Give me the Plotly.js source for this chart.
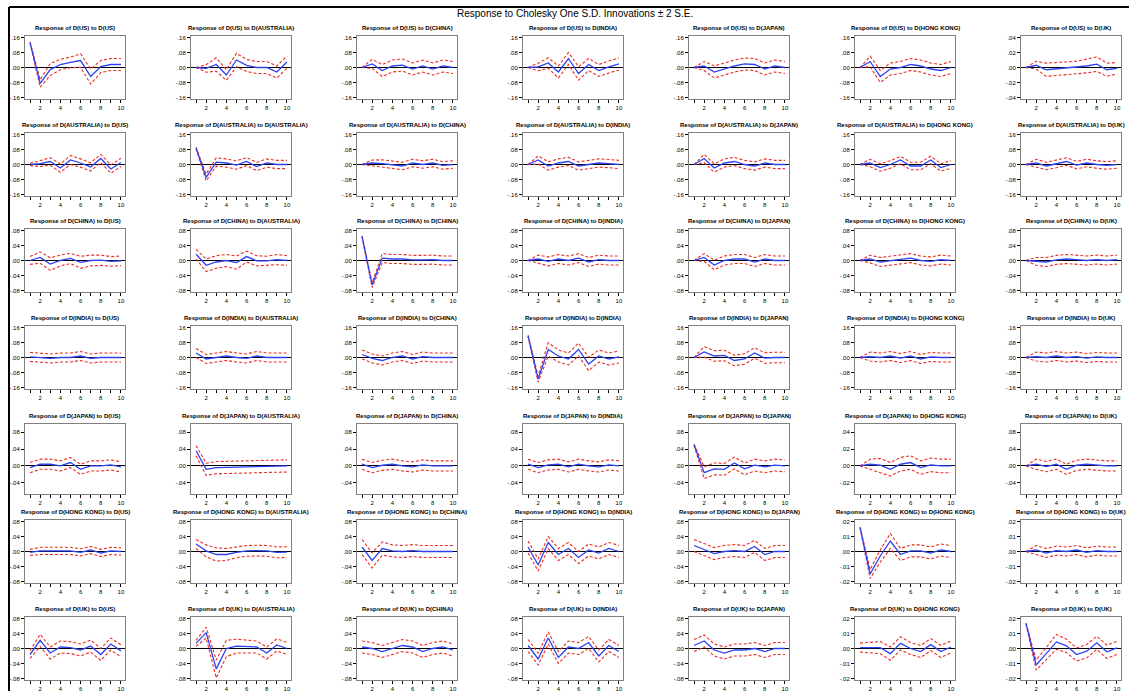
<!DOCTYPE html>
<html>
<head>
<meta charset="utf-8">
<script src="https://cdn.plot.ly/plotly-3.0.1.min.js"></script>
<style>html,body{margin:0;padding:0;background:#fff;}#chart{width:1129px;height:691px;}</style>
</head>
<body>
<div id="chart"></div>
<script>
const countries = ['US','AUSTRALIA','CHINA','INDIA','JAPAN','HONG KONG','UK'];
const periods = [1,2,3,4,5,6,7,8,9,10];
const xTickText = ['', '2', '', '4', '', '6', '', '8', '', '10'];
const mainTitle = 'Response to Cholesky One S.D. Innovations \u00b1 2 S.E.';

// top tick value of each panel's y axis (row = responding variable, col = shock)
const yTopTick = [
  [.16,.16,.16,.16,.16,.16,.04],
  [.16,.16,.16,.16,.16,.16,.16],
  [.08,.08,.08,.08,.08,.08,.08],
  [.16,.16,.16,.16,.16,.16,.16],
  [.08,.08,.08,.08,.08,.04,.08],
  [.08,.08,.08,.08,.08,.02,.02],
  [.08,.08,.08,.08,.08,.02,.02]
];

// Response of D(US) to each shock
const irfUS = [
  [.133,-.085,-.011,.016,.027,.037,-.048,.005,.016,.016],
  [0,-.005,.016,-.040,.040,.011,0,0,-.024,.029],
  [0,.019,-.016,.008,.013,-.008,.008,-.008,.008,0],
  [0,.003,.024,-.024,.048,-.032,.016,-.016,.003,.019],
  [0,.008,-.024,-.008,.008,.019,.016,-.008,.008,0],
  [0,.032,-.048,-.008,0,.016,.008,-.008,-.016,0],
  [0,.003,-.003,-.002,-.001,0,.002,.0044,-.003,-.001]
];
const seUS = [
  [.002,.010,.016,.014,.014,.018,.020,.016,.016,.016],
  [0,.010,.018,.014,.018,.016,.016,.016,.016,.016],
  [0,.012,.016,.016,.016,.016,.016,.016,.016,.016],
  [0,.010,.014,.016,.016,.018,.016,.016,.016,.016],
  [0,.012,.016,.016,.016,.016,.016,.016,.016,.016],
  [0,.014,.016,.016,.016,.016,.016,.016,.016,.016],
  [0,.0026,.0044,.0044,.004,.0042,.0046,.0048,.0044,.0038]
];

// Response of D(AUSTRALIA)
const irfAUSTRALIA = [
  [0,.005,.016,-.019,.024,.008,-.013,.032,-.024,.011],
  [.088,-.069,.013,.008,-.003,.016,-.011,.008,0,0],
  [0,.008,.005,0,-.008,.008,0,.008,-.005,0],
  [0,.024,-.008,.008,.016,-.008,0,.008,.005,0],
  [0,.032,-.019,.008,.016,0,-.008,.008,0,0],
  [0,.008,-.016,0,.024,-.008,-.008,.024,-.016,0],
  [0,.008,-.008,.003,.016,-.003,.008,0,-.005,0]
];
const seAUSTRALIA = [
  [.003,.008,.010,.011,.012,.011,.011,.011,.011,.011],
  [.002,.009,.011,.011,.011,.011,.011,.011,.011,.011],
  [0,.008,.010,.010,.010,.010,.010,.010,.010,.010],
  [0,.011,.011,.011,.011,.011,.011,.011,.011,.011],
  [0,.011,.011,.011,.011,.011,.011,.011,.011,.011],
  [0,.010,.010,.010,.010,.010,.010,.010,.010,.010],
  [0,.010,.010,.010,.010,.010,.010,.010,.010,.010]
];

// Response of D(CHINA)
const irfCHINA = [
  [0,.008,-.0096,0,.0056,-.0048,0,.0008,-.0024,-.0008],
  [.0168,-.0128,-.004,0,-.0056,.0104,-.0008,-.0008,.0024,0],
  [.064,-.0656,.0064,.004,.004,.0016,.0016,.0024,0,0],
  [0,.004,-.0024,.004,0,.0064,-.004,.0024,0,0],
  [0,.008,-.012,0,.004,.004,-.004,.004,0,0],
  [0,.004,-.004,0,.004,.0064,0,-.0024,.0024,0],
  [0,-.0024,-.004,.0016,.004,.0024,0,.0024,0,.0024]
];
const seCHINA = [
  [.0052,.0076,.0084,.0072,.0068,.008,.0072,.0068,.0064,.0064],
  [.0064,.0084,.0084,.008,.0088,.0072,.0068,.006,.0068,.0064],
  [.0008,.0032,.006,.006,.006,.006,.006,.006,.006,.006],
  [0,.0052,.006,.006,.006,.006,.006,.006,.006,.006],
  [0,.0052,.0064,.006,.006,.006,.006,.006,.006,.006],
  [0,.0052,.006,.006,.006,.006,.006,.006,.006,.006],
  [0,.0052,.006,.006,.006,.006,.006,.006,.006,.006]
];

// Response of D(INDIA)
const irfINDIA = [
  [.003,0,-.005,0,0,.008,-.005,0,0,0],
  [.024,-.008,0,.008,0,-.005,.008,0,0,0],
  [.016,-.005,-.016,0,.008,-.008,.005,0,0,0],
  [.115,-.115,.043,.008,-.008,.043,-.035,.008,-.008,.003],
  [0,.030,.008,.011,-.016,-.008,.024,-.003,0,0],
  [0,.005,0,.008,-.003,.008,-.008,.003,0,0],
  [0,.005,0,.008,0,.005,-.003,.003,0,0]
];
const seINDIA = [
  [.012,.012,.012,.012,.012,.012,.012,.012,.012,.012],
  [.012,.012,.012,.012,.012,.012,.012,.012,.012,.012],
  [.012,.012,.012,.012,.012,.012,.012,.012,.012,.012],
  [.002,.008,.018,.016,.016,.017,.018,.016,.016,.016],
  [0,.014,.014,.014,.014,.014,.014,.014,.014,.014],
  [0,.012,.012,.012,.012,.012,.012,.012,.012,.012],
  [0,.012,.012,.012,.012,.012,.012,.012,.012,.012]
];

// Response of D(JAPAN)
const irfJAPAN = [
  [-.004,.004,.004,0,.008,-.008,0,0,.0024,-.0024],
  [.036,-.008,-.004,-.004,-.0024,-.0024,-.0016,-.0016,0,0],
  [.004,-.004,.0016,.004,0,-.0024,.0024,0,0,0],
  [.004,-.004,.0024,.004,-.0024,.004,0,-.0024,.0024,0],
  [.05,-.016,-.007,-.008,.007,-.007,.002,-.002,.002,0],
  [0,.002,.0008,-.004,.002,.004,-.002,.0012,0,0],
  [0,.004,-.0016,.004,-.008,.0016,.004,.0016,0,0]
];
const seJAPAN = [
  [.006,.006,.006,.006,.006,.006,.006,.006,.006,.006],
  [.006,.0072,.0072,.0072,.0072,.0072,.0072,.0072,.0072,.0072],
  [.006,.006,.006,.006,.006,.006,.006,.006,.006,.006],
  [.006,.006,.006,.006,.006,.006,.006,.006,.006,.006],
  [.0008,.007,.007,.007,.007,.007,.007,.007,.007,.007],
  [0,.003,.004,.004,.004,.004,.004,.004,.004,.004],
  [0,.006,.006,.006,.006,.006,.006,.006,.006,.006]
];

// Response of D(HONG KONG)
const irfHONGKONG = [
  [-.0024,.0016,.0016,.0024,.0016,-.0024,.004,-.004,.0016,0],
  [.02,.0016,-.008,-.008,-.0024,.0016,.0024,.0016,-.0024,-.0016],
  [.012,-.024,.008,.0016,0,.0024,0,0,0,0],
  [.012,-.036,.024,-.008,.008,-.016,.004,-.004,.008,0],
  [.016,.0056,-.0056,0,.0024,0,.0136,-.008,0,0],
  [.016,-.015,-.003,.007,-.002,.0004,.0004,-.001,.001,0],
  [0,.001,-.001,.0006,0,.001,-.0006,.0006,0,0]
];
const seHONGKONG = [
  [.004,.0048,.0048,.0048,.0048,.0048,.0048,.0048,.0048,.0048],
  [.006,.008,.0088,.008,.0072,.0072,.0072,.0072,.0072,.0072],
  [.01,.01,.0088,.008,.008,.008,.008,.008,.008,.008],
  [.008,.008,.008,.008,.008,.008,.008,.008,.008,.008],
  [.008,.008,.008,.008,.008,.008,.008,.008,.008,.008],
  [.0002,.0015,.002,.0025,.002,.002,.002,.002,.002,.002],
  [0,.0015,.0015,.0015,.0015,.0015,.0015,.0015,.0015,.0015]
];

// Response of D(UK)
const irfUK = [
  [-.016,.0216,-.012,.004,.0024,-.004,.0064,-.016,.012,-.0064],
  [.0136,.0424,-.0544,0,.0064,.0056,.004,-.012,.0096,0],
  [.004,0,-.008,0,.008,.004,-.008,0,.004,-.004],
  [.008,-.028,.028,-.024,.004,0,.016,-.02,.008,-.008],
  [.008,.02,-.004,-.012,-.004,-.004,0,-.008,0,0],
  [.0006,.0006,.0006,-.0034,.0034,0,-.002,.0026,-.002,.001],
  [.0166,-.011,-.0034,.0044,.0018,-.004,-.0018,.0038,-.0022,.0004]
];
const seUK = [
  [.0052,.008,.008,.008,.008,.008,.008,.008,.008,.008],
  [.004,.0072,.012,.0108,.0092,.0088,.008,.008,.008,.008],
  [.008,.008,.008,.008,.008,.008,.008,.008,.008,.008],
  [.008,.008,.008,.008,.008,.008,.008,.008,.008,.008],
  [.008,.008,.008,.008,.008,.008,.008,.008,.008,.008],
  [.0015,.0017,.002,.0022,.0022,.002,.002,.002,.002,.002],
  [.0002,.0017,.002,.0025,.0022,.0022,.0022,.0022,.0022,.0022]
];

const irfRows = [irfUS, irfAUSTRALIA, irfCHINA, irfINDIA, irfJAPAN, irfHONGKONG, irfUK];
const seRows = [seUS, seAUSTRALIA, seCHINA, seINDIA, seJAPAN, seHONGKONG, seUK];

// ---- layout geometry (pixels) ----
const W = 1129, H = 691;
const PL = 25, PW = 100, DX = 166;
const rowTopPx = [36, 133, 229, 326, 424, 520, 617];
const rowHeightPx = [63, 63, 63, 63, 70, 63, 63];
// axis range as multiples of the top tick (bottom, top)
const rowRangeMult = [[-1.05,1.05],[-1.05,1.05],[-1.05,1.05],[-1.05,1.05],[-0.83,1.24],[-1.05,1.05],[-1.05,1.05]];
const RED = 'rgb(235,45,35)', BLUE = 'rgb(45,65,240)';

function fmt(v) {
  if (Math.abs(v) < 1e-12) return '.00';
  const s = Math.abs(v).toFixed(2).replace(/^0/, '');
  return (v < 0 ? '-' : '') + s;
}

const traces = [];
const layout = {
  width: W, height: H,
  margin: {l: 0, r: 0, t: 0, b: 0},
  paper_bgcolor: '#fff', plot_bgcolor: '#fff',
  showlegend: false,
  font: {family: 'Liberation Sans, Arial, sans-serif', color: '#000'},
  annotations: [], shapes: []
};

for (let r = 0; r < 7; r++) {
  for (let c = 0; c < 7; c++) {
    const n = r * 7 + c + 1;
    const xa = n === 1 ? 'x' : 'x' + n;
    const ya = n === 1 ? 'y' : 'y' + n;
    const x0 = PL + DX * c, y0 = rowTopPx[r], ph = rowHeightPx[r];
    const T = yTopTick[r][c];
    const irf = irfRows[r][c], se = seRows[r][c];
    const upper = irf.map((v, i) => v + 2 * se[i]);
    const lower = irf.map((v, i) => v - 2 * se[i]);
    const dashed = {color: RED, width: 1.1, dash: '3px,2px'};
    traces.push({x: periods, y: upper, xaxis: xa, yaxis: ya, mode: 'lines', line: dashed, hoverinfo: 'skip'});
    traces.push({x: periods, y: lower, xaxis: xa, yaxis: ya, mode: 'lines', line: dashed, hoverinfo: 'skip'});
    traces.push({x: periods, y: irf, xaxis: xa, yaxis: ya, mode: 'lines', line: {color: BLUE, width: 1.3}, hoverinfo: 'skip'});

    const yticks = [-T, -T / 2, 0, T / 2, T];
    layout[n === 1 ? 'xaxis' : 'xaxis' + n] = {
      domain: [x0 / W, (x0 + PW) / W], anchor: ya,
      range: [0.5, 10.4], tickvals: periods, ticktext: xTickText,
      ticks: 'outside', ticklen: 3, tickwidth: 1, tickcolor: '#000',
      showline: true, linecolor: '#808080', linewidth: 1, mirror: true,
      showgrid: false, zeroline: false, fixedrange: true,
      tickfont: {size: 6, color: '#000'}
    };
    layout[n === 1 ? 'yaxis' : 'yaxis' + n] = {
      domain: [1 - (y0 + ph) / H, 1 - y0 / H], anchor: xa,
      range: [rowRangeMult[r][0] * T, rowRangeMult[r][1] * T],
      tickvals: yticks, ticktext: yticks.map(fmt),
      ticks: 'outside', ticklen: 3, tickwidth: 1, tickcolor: '#000',
      showline: true, linecolor: '#808080', linewidth: 1, mirror: true,
      showgrid: false, zeroline: true, zerolinecolor: '#000', zerolinewidth: 1,
      fixedrange: true, tickfont: {size: 6, color: '#000'}
    };
    layout.annotations.push({
      xref: 'paper', yref: 'paper',
      x: (x0 + PW / 2) / W, y: 1 - (y0 - 8) / H,
      xanchor: 'center', yanchor: 'middle', showarrow: false,
      text: '<b>Response of D(' + countries[r] + ') to D(' + countries[c] + ')</b>',
      font: {size: 6, color: '#000'}
    });
  }
}

layout.annotations.push({
  xref: 'paper', yref: 'paper', x: 575 / W, y: 1 - 14 / H,
  xanchor: 'center', yanchor: 'middle', showarrow: false,
  text: mainTitle, font: {size: 10, color: '#000'}
});
layout.shapes.push({type: 'line', xref: 'paper', yref: 'paper', x0: 9 / W, x1: 9 / W, y0: 0, y1: 1 - 7 / H, line: {color: '#000', width: 2}});
layout.shapes.push({type: 'line', xref: 'paper', yref: 'paper', x0: 9 / W, x1: 1, y0: 1 - 7 / H, y1: 1 - 7 / H, line: {color: '#000', width: 2}});

Plotly.newPlot('chart', traces, layout, {staticPlot: true, displayModeBar: false});
</script>
</body>
</html>
